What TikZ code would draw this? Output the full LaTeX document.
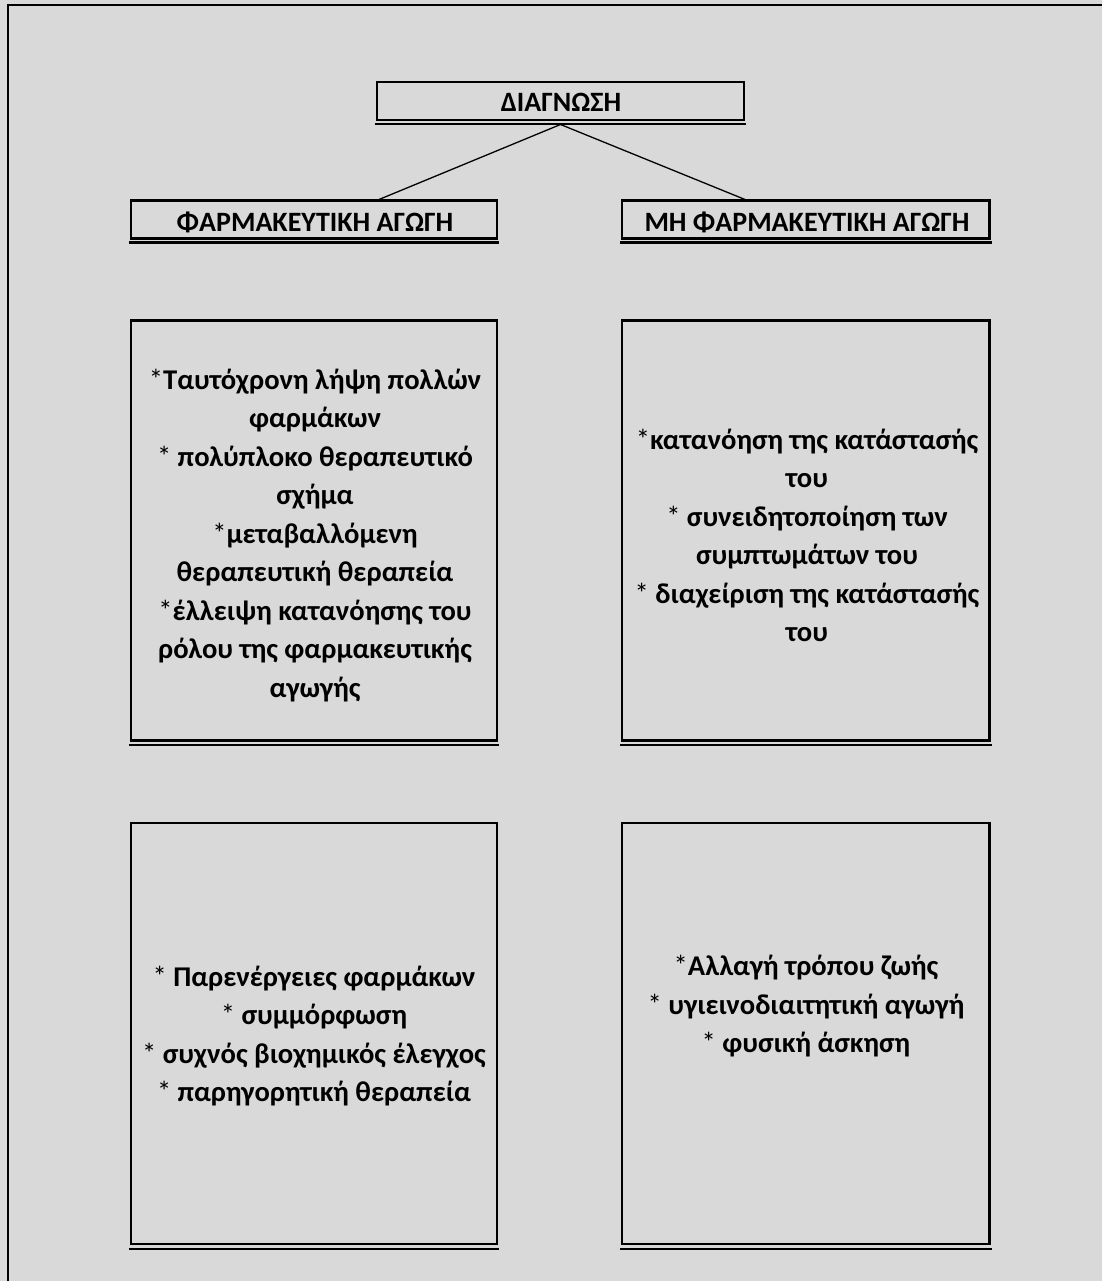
\documentclass[tikz,border=0pt]{standalone}
\usepackage{fontspec}
\setmainfont{Carlito}
\definecolor{bg}{HTML}{D9D9D9}
\newcommand{\myast}{{\mdseries*}}
\begin{document}
\begin{tikzpicture}[x=1pt,y=-1pt,
  boxframe/.style={draw=black, line width=2.2pt, inner sep=0pt},
  underline/.style={draw=black, line width=2.6pt},
  lbl/.style={font=\bfseries\fontsize{28}{38.6}\selectfont, align=center, inner sep=0pt, text=black},
  body/.style={lbl, font=\bfseries\fontsize{28.6}{38.5}\selectfont},
  conn/.style={draw=black, line width=1.3pt}]
\fill[bg] (0,0) rectangle (1102,1281);
\useasboundingbox (0,0) rectangle (1102,1281);
% outer frame
\draw[line width=2pt] (7.5,1281) -- (7.5,5) -- (1102,5);
% header boxes
\node[boxframe, minimum width=367pt, minimum height=38pt] (diag) at (560.5,101) {};
\node[boxframe, minimum width=366pt, minimum height=38pt] (pharm) at (314,219.5) {};
\node[boxframe, minimum width=367.5pt, minimum height=38pt] (nonpharm) at (805.75,219.5) {};
% content boxes
\node[boxframe, minimum width=366pt, minimum height=420pt] (c1box) at (314,530.5) {};
\node[boxframe, minimum width=367.5pt, minimum height=420pt] (c2box) at (805.75,530.5) {};
\node[boxframe, minimum width=366pt, minimum height=421pt] (c3box) at (314,1033.5) {};
\node[boxframe, minimum width=367.5pt, minimum height=421pt] (c4box) at (805.75,1033.5) {};
% double bottom lines
\foreach \n/\s in {diag/3,pharm/2.8,nonpharm/2.8,c1box/3.5,c2box/3.5,c3box/4,c4box/4}{
  \draw[underline] ([xshift=-1.1pt,yshift=-\s pt]\n.south west) -- ([xshift=1.1pt,yshift=-\s pt]\n.south east);
}
% connectors
\coordinate (apex) at (560.5,124.5);
\coordinate (pl) at (379,199.5);
\coordinate (pr) at (745,199.5);
\draw[conn] (apex) -- (pl);
\draw[conn] (apex) -- (pr);
% labels
\node[lbl, anchor=base] (diagt) at (561,111.5) {ΔΙΑΓΝΩΣΗ};
\node[lbl, anchor=base] (pharmt) at (315,231.5) {ΦΑΡΜΑΚΕΥΤΙΚΗ ΑΓΩΓΗ};
\node[lbl, anchor=base] (nonpharmt) at (807,231.5) {ΜΗ ΦΑΡΜΑΚΕΥΤΙΚΗ ΑΓΩΓΗ};
\node[body] (c1) at (315,535.5) {\myast Ταυτόχρονη λήψη πολλών\\φαρμάκων\\\myast{} πολύπλοκο θεραπευτικό\\σχήμα\\\myast μεταβαλλόμενη\\θεραπευτική θεραπεία\\\myast έλλειψη κατανόησης του\\ρόλου της φαρμακευτικής\\αγωγής};
\node[body] (c2) at (807,535.5) {\myast κατανόηση της κατάστασής\\του\\\myast{} συνειδητοποίηση των\\συμπτωμάτων του\\\myast{} διαχείριση της κατάστασής\\του};
\node[body] (c3) at (314,1036) {\myast{} Παρενέργειες φαρμάκων\\\myast{} συμμόρφωση\\\myast{} συχνός βιοχημικός έλεγχος\\\myast{} παρηγορητική θεραπεία};
\node[body] (c4) at (806,1006.5) {\myast Αλλαγή τρόπου ζωής\\\myast{} υγιεινοδιαιτητική αγωγή\\\myast{} φυσική άσκηση};
\end{tikzpicture}
\end{document}
